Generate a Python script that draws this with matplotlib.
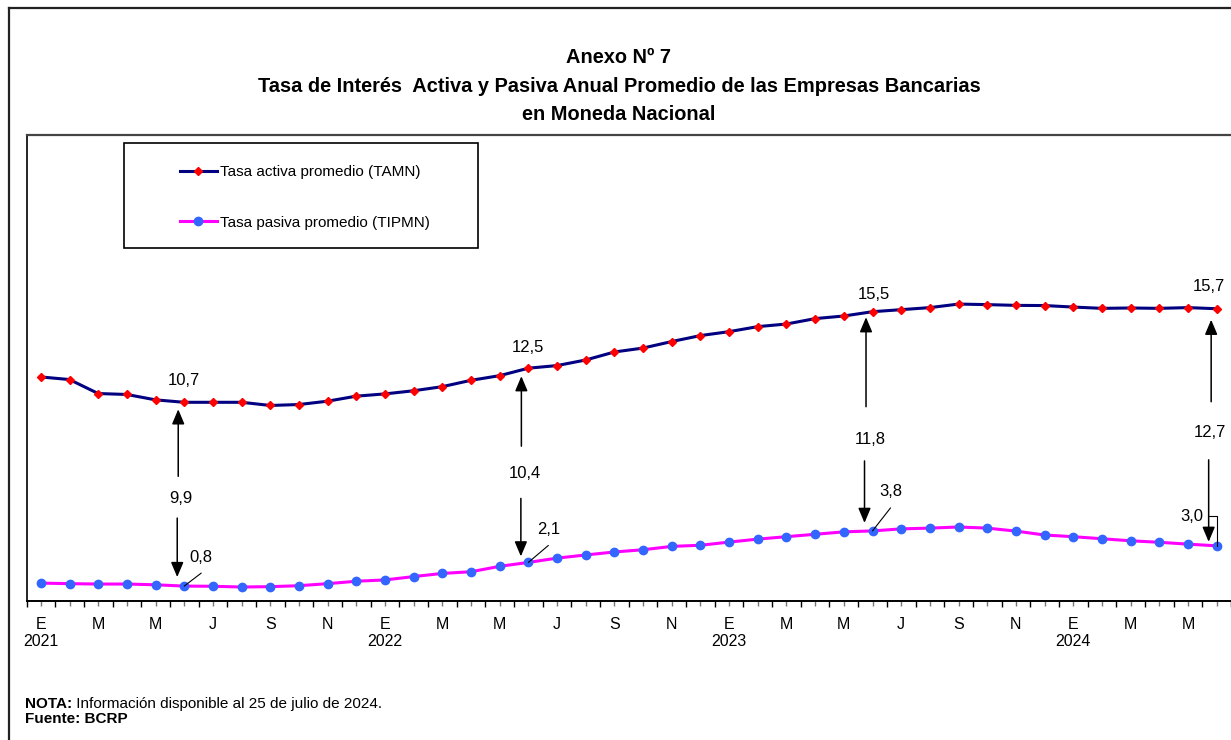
"""
Anexo Nº 7 - Tasa de interés activa y pasiva (moneda nacional), 2021-2024
"""

import matplotlib
matplotlib.use("Agg")
import matplotlib.pyplot as plt
from matplotlib import font_manager
from matplotlib.lines import Line2D
from matplotlib.patches import Rectangle, ArrowStyle
from matplotlib.transforms import offset_copy


# --- data (monthly, Ene 2021 - Jun 2024) ---
MONTH_LETTERS = ["E", "F", "M", "A", "M", "J", "J", "A", "S", "O", "N", "D"]
YEARS = [2021, 2022, 2023, 2024]

tamn = [
    12.02, 11.88, 11.13, 11.08, 10.79, 10.66, 10.66, 10.66, 10.49, 10.54, 10.72, 10.99,
    11.11, 11.28, 11.50, 11.84, 12.09, 12.49, 12.63, 12.93, 13.36, 13.57, 13.92, 14.24,
    14.45, 14.72, 14.86, 15.15, 15.29, 15.52, 15.63, 15.74, 15.93, 15.90, 15.86, 15.85,
    15.77, 15.70, 15.72, 15.70, 15.74, 15.68,
]
tipmn = [
    0.96, 0.93, 0.91, 0.91, 0.87, 0.80, 0.79, 0.75, 0.77, 0.82, 0.93, 1.06,
    1.13, 1.31, 1.48, 1.57, 1.86, 2.07, 2.30, 2.47, 2.63, 2.75, 2.93, 2.99,
    3.16, 3.32, 3.45, 3.58, 3.71, 3.76, 3.87, 3.91, 3.97, 3.91, 3.75, 3.54,
    3.45, 3.34, 3.23, 3.15, 3.05, 2.96,
]
# months (index) with the value / spread call-outs: Jun of each year
callout_idx = [5, 17, 29, 41]

SERIES_LABELS = ["Tasa activa promedio (TAMN)", "Tasa pasiva promedio (TIPMN)"]

TITLE = ("Anexo Nº 7\n"
         "Tasa de Interés  Activa y Pasiva Anual Promedio de las Empresas Bancarias\n"
         "en Moneda Nacional")
NOTE_BOLD = "NOTA:"
NOTE_TEXT = " Información disponible al 25 de julio de 2024."
SOURCE = "Fuente: BCRP"


def fmt(v: float) -> str:
    return f"{v:.1f}".replace(".", ",")


# --- fonts: Arial Narrow look-alike if present ---
names = {f.name for f in font_manager.fontManager.ttflist}
FONT = "Liberation Sans Narrow" if "Liberation Sans Narrow" in names else "Liberation Sans"
plt.rcParams["font.family"] = [FONT, "DejaVu Sans"]

W_PX, H_PX = 1231, 740
fig = plt.figure(figsize=(W_PX / 100, H_PX / 100), dpi=100)

# outer frame (left + top)
fig.add_artist(Line2D([8.5 / W_PX, 8.5 / W_PX], [0, 1 - 8 / H_PX],
                      transform=fig.transFigure, color="#222222", lw=1.6))
fig.add_artist(Line2D([8.5 / W_PX, 1], [1 - 8 / H_PX, 1 - 8 / H_PX],
                      transform=fig.transFigure, color="#222222", lw=1.6))

ax_left, ax_bottom, ax_top = 26.5, 601, 135
ax = fig.add_axes([ax_left / W_PX, (H_PX - ax_bottom) / H_PX,
                   1 - ax_left / W_PX, (ax_bottom - ax_top) / H_PX])

x = list(range(len(tamn)))
ax.plot(x, tamn, color="#000080", lw=2.2, marker="D", ms=4.2,
        mfc="red", mec="red", label=SERIES_LABELS[0], zorder=3)
ax.plot(x, tipmn, color="#FF00FF", lw=2.2, marker="o", ms=6,
        mfc="#3366FF", mec="#3366FF", label=SERIES_LABELS[1], zorder=3)

ax.set_xlim(-0.5, 41.42)
ax.set_ylim(0, 25)

# spines
ax.spines["right"].set_visible(False)
ax.spines["top"].set_color("#444444")
ax.spines["top"].set_linewidth(1.6)
ax.spines["left"].set_color("black")
ax.spines["left"].set_linewidth(1.2)
ax.spines["bottom"].set_color("black")
ax.spines["bottom"].set_linewidth(1.4)

# x ticks: labelled ticks at month centres, boundary ticks as minor
labels = []
for i in x:
    m = i % 12
    lab = MONTH_LETTERS[m] if m % 2 == 0 else ""
    if m == 0:
        lab += f"\n{YEARS[i // 12]}"
    labels.append(lab)
ax.set_xticks(x)
ax.set_xticklabels(labels, fontsize=11.5, linespacing=1.2)
ax.set_xticks([i - 0.5 for i in x] + [x[-1] + 0.5], minor=True)
ax.tick_params(axis="x", which="major", length=3.5, width=1, color="#777777", pad=8)
ax.tick_params(axis="x", which="minor", length=4, width=1, color="black")
for t in ax.get_xticklabels():
    t.set_verticalalignment("top")
ax.set_yticks([])

# legend (handles from the plotted lines) + its frame
ax.legend(loc="center left", bbox_to_anchor=(0.1274, 0.866), frameon=False,
          fontsize=11, borderpad=0, borderaxespad=0, handlelength=2.4,
          handletextpad=0.2, labelspacing=2.4)
ax.add_patch(Rectangle((0.081, 0.7575), 0.294, 0.2253, transform=ax.transAxes,
                       fill=False, ec="black", lw=1.2, zorder=5))

# call-outs
arrow_style = ArrowStyle("-|>", head_length=0.9, head_width=0.38)
arrow_kw = dict(arrowstyle=arrow_style, mutation_scale=10, color="black",
                lw=1.1, shrinkA=0, shrinkB=0)
num_fs = 12


def arrow(i, v, dx, tip_dy, tail_dy):
    tr = offset_copy(ax.transData, fig=fig, x=dx, y=tip_dy, units="dots")
    ax.annotate("", xy=(i, v), xycoords=tr, xytext=(0, tail_dy - tip_dy),
                textcoords="offset pixels", arrowprops=arrow_kw)


def label(i, v, txt, dx, dy):
    ax.annotate(txt, xy=(i, v), xytext=(dx, dy), textcoords="offset pixels",
                ha="center", va="center", fontsize=num_fs)


# per call-out pixel offsets (top label, up arrow, spread label, down arrow, low label)
layout = [
    dict(top=(0, 22), up=(-6, -7, -74), mid=(-3, -96), down=(-7, 9, 68), low=(17, 29), lead=(17, 13)),
    dict(top=(0, 21), up=(-7, -8, -78), mid=(-4, -105), down=(-7.5, 6, 64), low=(20, 33), lead=(20, 17)),
    dict(top=(1.5, 17), up=(-6.5, -5.5, -95), mid=(-2.5, -128), down=(-8, 8, 70), low=(18.5, 39), lead=(18, 23)),
    dict(top=(-8, 22), up=(-5.5, -11, -93), mid=(-6.5, -124), down=(-8, 4, 86), low=(-25, 29), lead=None),
]

for i, lay in zip(callout_idx, layout):
    hi, lo = tamn[i], tipmn[i]
    label(i, hi, fmt(hi), *lay["top"])
    arrow(i, hi, *lay["up"])
    label(i, hi, fmt(round(hi, 2) - round(lo, 2)), *lay["mid"])
    arrow(i, lo, *lay["down"])
    label(i, lo, fmt(lo), *lay["low"])
    if lay["lead"] is not None:
        ax.annotate("", xy=(i, lo), xytext=lay["lead"], textcoords="offset pixels",
                    arrowprops=dict(arrowstyle="-", lw=0.8, color="black",
                                    shrinkA=0, shrinkB=0))
    else:
        ax.annotate("", xy=(i, lo), xytext=(-8, 30), textcoords="offset pixels",
                    arrowprops=dict(arrowstyle="-", lw=0.8, color="black",
                                    shrinkA=0, shrinkB=0,
                                    connectionstyle="angle,angleA=0,angleB=90,rad=0"))

# title
fig.text(619 / W_PX, 1 - 86 / H_PX, TITLE, ha="center", va="center",
         fontsize=14.4, fontweight="bold", linespacing=1.65)

# footnote
nota = fig.text(25 / W_PX, 1 - 704 / H_PX, NOTE_BOLD, ha="left", va="center",
                fontsize=11, fontweight="bold")
ax.annotate(NOTE_TEXT, xy=(1, 0.5), xycoords=nota, ha="left", va="center",
            fontsize=11, annotation_clip=False)
fig.text(25 / W_PX, 1 - 719 / H_PX, SOURCE, ha="left", va="center",
         fontsize=11, fontweight="bold")

fig.savefig("out.png", dpi=100)
